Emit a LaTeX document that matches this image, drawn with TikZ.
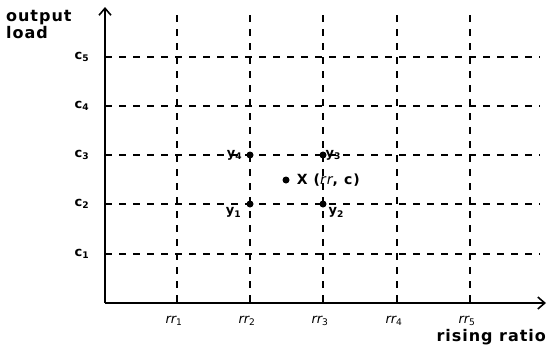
\documentclass[tikz,border=0pt]{standalone}
\usepackage{fontspec}
\setmainfont{DejaVu Sans}
\usepackage{amsmath, amssymb}
\usepackage{xcolor}
\usetikzlibrary{calc, positioning, arrows.meta}

\begin{document}
\begin{tikzpicture}[x=1pt, y=-1pt, >=Stealth,
    axis/.style={line width=1.8pt, ->, >={Straight Barb[length=7pt, width=12pt, line width=1.6pt]}},
    gridline/.style={line width=1.5pt, dash pattern=on 7pt off 7pt},
    pt/.style={circle, fill=black, inner sep=0pt, minimum size=7pt},
    lbl/.style={font=\fontsize{13}{13}\selectfont\bfseries, inner sep=0.5pt},
    axlbl/.style={font=\fontsize{16}{18}\selectfont\bfseries\addfontfeature{LetterSpace=6}, inner sep=0pt}]
    % Khung tranh
    \useasboundingbox (0,0) rectangle (548,349);

    % Hai trục toạ độ
    \coordinate (O) at (105,303);
    \coordinate (ytop) at (105,7);
    \coordinate (xend) at (546,303);
    \draw[axis] (O) -- (ytop);
    \draw[axis] (O) -- (xend);

    % Các đường nét đứt dọc: rr1..rr5
    \foreach \i/\xx in {1/177, 2/250, 3/323, 4/397, 5/470} {
        \coordinate (vt\i) at (\xx,15);
        \coordinate (vb\i) at (\xx,303);
        \draw[gridline] (vt\i) -- (vb\i);
        \node[lbl, font=\fontsize{13}{13}\selectfont\itshape] (rr\i) at (\xx-3,321) {rr\textsubscript{\upshape\i}};
    }

    % Các đường nét đứt ngang: c1..c5
    \foreach \j/\yy in {1/254, 2/204, 3/155, 4/106, 5/57} {
        \coordinate (hl\j) at (105,\yy);
        \coordinate (hr\j) at (540,\yy);
        \draw[gridline] (hl\j) -- (hr\j);
        \node[lbl, anchor=west] (c\j) at (74,\yy) {c\textsubscript{\j}};
    }

    % Tên các trục
    \node[axlbl, align=left, anchor=north west] (ylab) at (6,10) {output\\[-1pt]load};
    \node[axlbl, anchor=base east] (xlab) at (546,341) {rising ratio};

    % Bốn điểm lưới và điểm X
    \node[pt] (y4) at (vt2 |- hl3) {};
    \node[pt] (y3) at (vt3 |- hl3) {};
    \node[pt] (y1) at (vt2 |- hl2) {};
    \node[pt] (y2) at (vt3 |- hl2) {};
    \node[pt] (X) at (286,180) {};

    \node[lbl, anchor=base east] (y4lab) at ([xshift=-7pt, yshift=-2pt]y4.center) {y\textsubscript{4}};
    \node[lbl, anchor=base west] (y3lab) at ([xshift=2pt, yshift=-2pt]y3.center) {y\textsubscript{3}};
    \node[lbl, anchor=north east] (y1lab) at ([xshift=-8pt, yshift=-3pt]y1.center) {y\textsubscript{1}};
    \node[lbl, anchor=north west] (y2lab) at ([xshift=5pt, yshift=-3pt]y2.center) {y\textsubscript{2}};
    \node[font=\fontsize{14}{14}\selectfont\bfseries\addfontfeature{LetterSpace=8}, right=7pt of X, inner sep=0pt] (Xlab) {X (\textit{\mdseries rr}, c)};
\end{tikzpicture}
\end{document}
